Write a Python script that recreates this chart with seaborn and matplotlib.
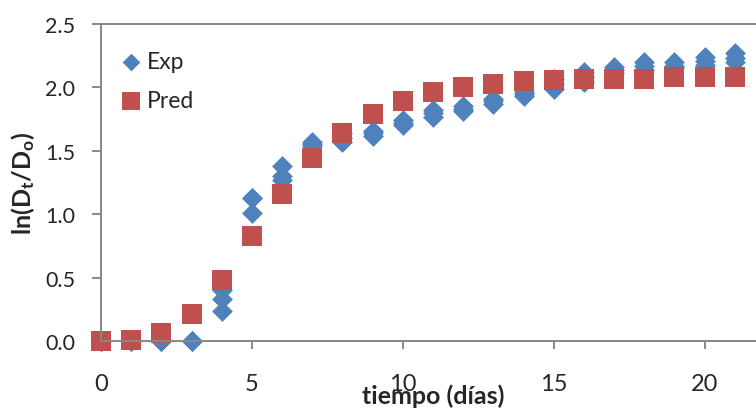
import pandas as pd
import matplotlib
matplotlib.use("Agg")
import matplotlib.pyplot as plt
import seaborn as sns

# Days and measured / predicted ln(Dt/Do)
dias = list(range(22))
exp_r1 = [0.00, 0.00, 0.00, 0.00, 0.24, 1.01, 1.27, 1.54, 1.57, 1.62, 1.70,
          1.77, 1.81, 1.87, 1.93, 1.99, 2.04, 2.11, 2.14, 2.15, 2.18, 2.20]
exp_r2 = [0.00, 0.00, 0.00, 0.00, 0.33, 1.13, 1.30, 1.55, 1.60, 1.64, 1.72,
          1.80, 1.83, 1.89, 1.95, 2.03, 2.08, 2.14, 2.17, 2.17, 2.21, 2.23]
exp_r3 = [0.00, 0.00, 0.00, 0.00, 0.40, 1.13, 1.38, 1.57, 1.64, 1.66, 1.74,
          1.82, 1.85, 1.91, 1.96, 2.07, 2.12, 2.16, 2.20, 2.20, 2.24, 2.27]
pred = [0.00, 0.01, 0.06, 0.21, 0.48, 0.83, 1.16, 1.44, 1.64, 1.79, 1.89,
        1.96, 2.00, 2.03, 2.05, 2.06, 2.07, 2.07, 2.07, 2.08, 2.08, 2.08]

y_ticks = [0.0, 0.5, 1.0, 1.5, 2.0, 2.5]
x_ticks = [0, 5, 10, 15, 20]

exp_df = pd.DataFrame({
    "dia": dias * 3,
    "valor": exp_r1 + exp_r2 + exp_r3,
})
pred_df = pd.DataFrame({"dia": dias, "valor": pred})

sns.set_style("white")
plt.rcParams["font.family"] = ["Lato", "DejaVu Sans"]
plt.rcParams["mathtext.fontset"] = "custom"
plt.rcParams["mathtext.rm"] = "Lato"
plt.rcParams["mathtext.bf"] = "Lato:bold"
plt.rcParams["mathtext.it"] = "Lato:italic"

fig = plt.figure(figsize=(7.56, 4.14), dpi=100)
ax = fig.add_axes([101 / 756, 72 / 414, 664 / 756, 317 / 414])

sns.scatterplot(data=exp_df, x="dia", y="valor", ax=ax, color="#4F81BD",
                marker="D", s=112, linewidth=0, label="Exp", clip_on=False)
sns.scatterplot(data=pred_df, x="dia", y="valor", ax=ax, color="#C0504D",
                marker="s", s=215, linewidth=0, label="Pred", clip_on=False)

ax.set_xlim(0, 22)
ax.set_ylim(0, 2.5)
ax.set_xticks(x_ticks)
ax.set_yticks(y_ticks)
ax.set_yticklabels([f"{v:.1f}" for v in y_ticks])

grey = "#888888"
for side in ["left", "bottom", "top"]:
    ax.spines[side].set_color(grey)
    ax.spines[side].set_linewidth(1.4)
ax.spines["right"].set_visible(False)

ax.tick_params(axis="y", direction="out", length=6.5, width=1.4, color=grey,
               labelsize=15.5, pad=12, left=True)
ax.tick_params(axis="x", direction="out", length=6, width=1.4, color=grey,
               labelsize=17, pad=17, bottom=True)

ax.set_xlabel("tiempo (días)", fontsize=18, fontweight="bold")
ax.xaxis.set_label_coords(0.5, -0.135)
ax.set_ylabel(r"ln(D$_\mathbf{t}$/D$_\mathbf{o}$)", fontsize=18,
              fontweight="bold")
ax.yaxis.set_label_coords(-0.096, 0.5)

ax.legend(loc="upper left", bbox_to_anchor=(0.031, 0.915), frameon=False,
          fontsize=16.5, markerscale=0.85, handlelength=0.8,
          handletextpad=0.3, labelspacing=0.8, borderpad=0, borderaxespad=0)

fig.savefig("out.png", dpi=100)
